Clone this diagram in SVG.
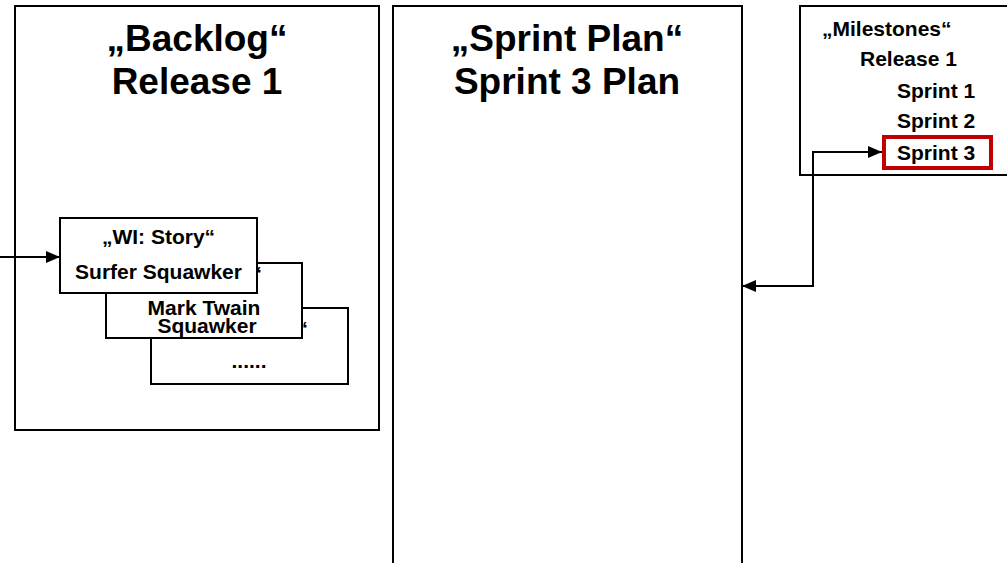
<svg xmlns="http://www.w3.org/2000/svg" width="1007" height="563" viewBox="0 0 1007 563">
  <style>
    .box { fill: #ffffff; stroke: #000000; stroke-width: 2; }
    .conn { fill: none; stroke: #000000; stroke-width: 2; }
    .t { font-family: "Liberation Sans", Arial, sans-serif; font-weight: bold; fill: #000000; }
    .big { font-size: 37px; text-anchor: middle; }
    .small { font-size: 21px; }
    .mid { text-anchor: middle; }
  </style>
  <defs>
    <marker id="arrow" viewBox="0 0 14 12" refX="14" refY="6" markerWidth="14" markerHeight="12" markerUnits="userSpaceOnUse" orient="auto-start-reverse">
      <path d="M0,0 L14,6 L0,12 Z" fill="#000000"/>
    </marker>
  </defs>
  <rect width="1007" height="563" fill="#ffffff"/>

  <g id="backlog">
    <rect class="box" x="15" y="6" width="364" height="424"/>
    <text class="t big" x="197" y="51">„Backlog“</text>
    <text class="t big" x="197" y="94">Release 1</text>
  </g>

  <g id="sprint-plan">
    <rect class="box" x="393" y="6" width="349" height="620"/>
    <text class="t big" x="567" y="51">„Sprint Plan“</text>
    <text class="t big" x="567" y="94">Sprint 3 Plan</text>
  </g>

  <g id="milestones">
    <rect class="box" x="800" y="6" width="230" height="169"/>
    <text class="t small" x="822" y="36">„Milestones“</text>
    <text class="t small" x="860" y="66">Release 1</text>
    <text class="t small" x="897" y="98">Sprint 1</text>
    <text class="t small" x="897" y="128">Sprint 2</text>
  </g>

  <g id="sprint3">
    <rect x="884" y="137" width="107" height="31" fill="#ffffff" stroke="#c00000" stroke-width="4"/>
    <text class="t small" x="897" y="160">Sprint 3</text>
  </g>

  <g id="story3">
    <rect class="box" x="151" y="308" width="197" height="76"/>
    <text class="t small" x="308" y="336" text-anchor="end">“</text>
    <text class="t small mid" x="249" y="368">......</text>
  </g>

  <g id="story2">
    <rect class="box" x="106" y="263" width="196" height="75"/>
    <text class="t small" x="262" y="281" text-anchor="end">“</text>
    <text class="t small mid" x="204" y="315">Mark Twain</text>
    <text class="t small mid" x="207" y="333">Squawker</text>
  </g>

  <g id="story1">
    <rect class="box" x="60" y="218" width="197" height="75"/>
    <text class="t small mid" x="158.5" y="244">„WI: Story“</text>
    <text class="t small mid" x="158.5" y="279">Surfer Squawker</text>
  </g>

  <g id="connectors">
    <path class="conn" d="M0,257 H60" marker-end="url(#arrow)"/>
    <path class="conn" d="M742,286 H813 V152 H882" marker-start="url(#arrow)" marker-end="url(#arrow)"/>
  </g>
</svg>
